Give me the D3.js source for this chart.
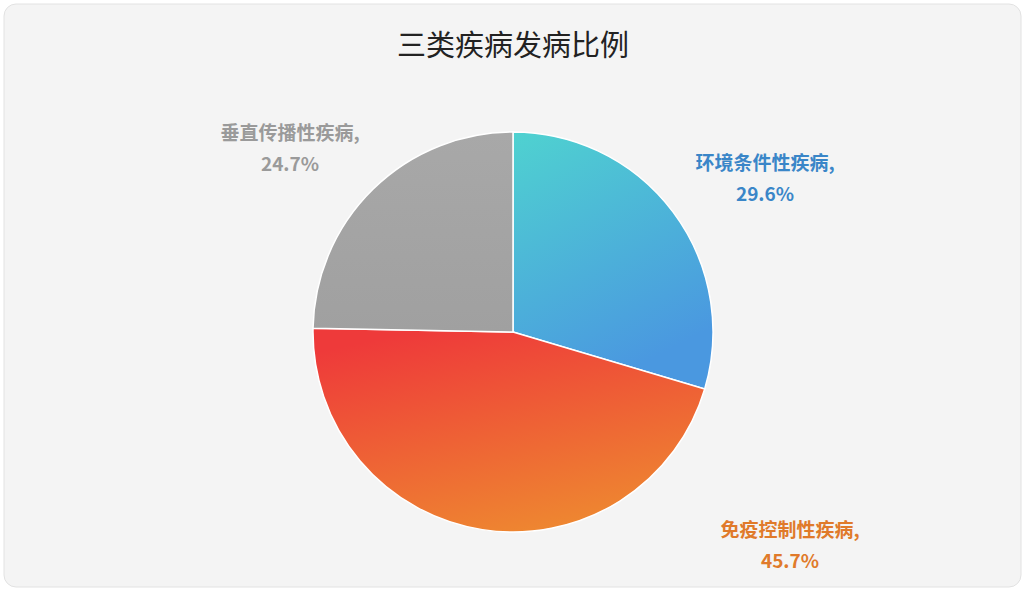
<!DOCTYPE html>
<html><head><meta charset="utf-8">
<script src="https://cdn.jsdelivr.net/npm/d3@7"></script>
<style>body{margin:0;background:#fff;}</style>
</head><body><div id="vis"></div>
<script>
var categories = ["环境条件性疾病", "免疫控制性疾病", "垂直传播性疾病"];
var values = [29.6, 45.7, 24.7];
var labels = ["29.6%", "45.7%", "24.7%"];

var w = 1025, h = 591;
var svg = d3.select("#vis").append("svg").attr("width", w).attr("height", h);

svg.append("rect").attr("x", 4).attr("y", 4).attr("width", w - 8).attr("height", h - 8)
  .attr("rx", 12).attr("fill", "#f4f4f4").attr("stroke", "#e2e2e2");

var defs = svg.append("defs");
function grad(id, c1, c2, x1, y1, x2, y2) {
  var g = defs.append("linearGradient").attr("id", id)
    .attr("x1", x1).attr("y1", y1).attr("x2", x2).attr("y2", y2);
  g.append("stop").attr("offset", "0%").attr("stop-color", c1);
  g.append("stop").attr("offset", "100%").attr("stop-color", c2);
}
grad("g0", "#4fd2d0", "#4a98e0", "0", "0", "0.4", "1");
grad("g1", "#ee3a3a", "#ee8a30", "0.3", "0", "0.7", "1");
grad("g2", "#a8a8a8", "#a0a0a0", "0", "0", "0", "1");

svg.append("text").attr("x", 513).attr("y", 56).attr("text-anchor", "middle")
  .attr("font-family", "Noto Sans CJK SC").attr("font-size", 29).attr("fill", "#222")
  .text("三类疾病发病比例");

var cx = 513, cy = 332, r = 200;
var pie = d3.pie().sort(null).value(function(d){ return d; });
var arc = d3.arc().innerRadius(0).outerRadius(r);
var g = svg.append("g").attr("transform", "translate(" + cx + "," + cy + ")");
g.selectAll("path").data(pie(values)).enter().append("path")
  .attr("d", arc)
  .attr("fill", function(d, i){ return "url(#g" + i + ")"; })
  .attr("stroke", "#fff").attr("stroke-width", 1.5);

var labelPos = [[765, 170], [790, 537], [290, 140]];
var colors = ["#3a86c8", "#e07a2a", "#9a9a9a"];
categories.forEach(function(c, i) {
  var t = svg.append("text").attr("text-anchor", "middle")
    .attr("font-family", "Noto Sans CJK SC").attr("font-size", 19)
    .attr("font-weight", "bold").attr("fill", colors[i]);
  t.append("tspan").attr("x", labelPos[i][0]).attr("y", labelPos[i][1]).text(c + ",");
  t.append("tspan").attr("x", labelPos[i][0]).attr("y", labelPos[i][1] + 31).text(labels[i]);
});
</script></body></html>
